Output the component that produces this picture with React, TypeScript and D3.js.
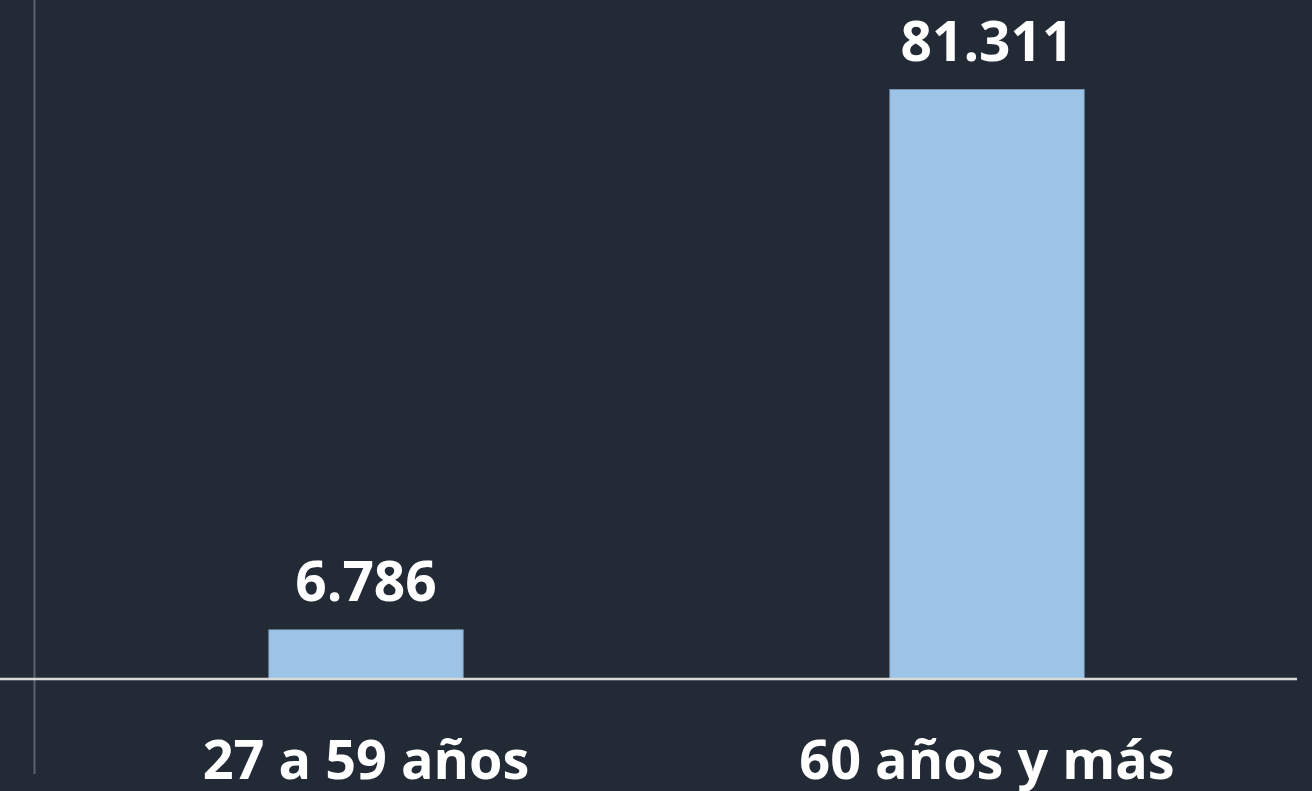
import React from "react";
import * as d3 from "d3";

const categories = ["27 a 59 años", "60 años y más"];
const values = [6786, 81311];
const valueLabels = ["6.786", "81.311"];

const W = 1312;
const H = 791;
const BG = "#222a36";
const BAR = "#9dc3e6";

export default function App() {
  const x = d3
    .scaleBand<string>()
    .domain(categories)
    .range([55.5, 1297.5])
    .paddingInner(0.687)
    .paddingOuter(0.3435);
  const y = d3.scaleLinear().domain([0, 90000]).range([679, 26.5]);
  const font = "'Open Sans', sans-serif";

  return (
    <svg
      width={W}
      height={H}
      style={{ position: "absolute", left: 0, top: 0, display: "block" }}
    >
      <rect x={0} y={0} width={W} height={H} fill={BG} />
      <line x1={34.5} x2={34.5} y1={0} y2={774} stroke="#5b626d" strokeWidth={2} />
      {categories.map((c, i) => (
        <g key={c}>
          <rect
            x={x(c)!}
            y={y(values[i])}
            width={x.bandwidth()}
            height={y(0) - y(values[i])}
            fill={BAR}
            stroke="#7f9cbb"
            strokeWidth={0.8}
          />
          <text
            x={x(c)! + x.bandwidth() / 2}
            y={y(values[i]) - 28.5}
            textAnchor="middle"
            fill="#ffffff"
            fontFamily={font}
            fontWeight={700}
            fontSize={55}
          >
            {valueLabels[i]}
          </text>
          <text
            x={x(c)! + x.bandwidth() / 2}
            y={779}
            textAnchor="middle"
            fill="#ffffff"
            fontFamily={font}
            fontWeight={700}
            fontSize={54}
          >
            {c}
          </text>
        </g>
      ))}
      <line x1={0} x2={1297} y1={679} y2={679} stroke="#d9d9d9" strokeWidth={2.5} />
    </svg>
  );
}
